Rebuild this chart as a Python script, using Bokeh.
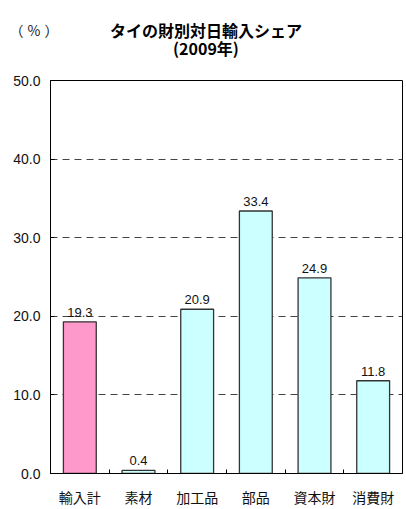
from bokeh.plotting import figure
from bokeh.layouts import column
from bokeh.models import ColumnDataSource, FixedTicker, Range1d, Div
from bokeh.core.properties import value
from bokeh.embed import file_html
from bokeh.resources import INLINE

# Thailand: Japan's share of imports by goods category, 2009 (%)
categories = ["輸入計", "素材", "加工品", "部品", "資本財", "消費財"]
shares = [19.3, 0.4, 20.9, 33.4, 24.9, 11.8]
bar_colors = ["#FF99CC", "#CCFFFF", "#CCFFFF", "#CCFFFF", "#CCFFFF", "#CCFFFF"]
y_ticks = [0, 10, 20, 30, 40, 50]
title_lines = ["タイの財別対日輸入シェア", "(2009年)"]
unit_label = "（%）"

JP = "Noto Sans CJK JP"
NUM = "Liberation Sans"
W, H = 406, 509
HEAD_H = 60

# ---- header: two-line title block and unit ----
span = "position:absolute;display:block;white-space:nowrap;text-align:center;"
header_html = (
    f'<div style="position:relative;width:{W}px;height:{HEAD_H}px;'
    f'font-family:\'{JP}\';color:#000;">'
    f'<span style="{span}left:0px;width:72px;top:22px;font-size:14px;'
    f'letter-spacing:4px;line-height:16px;color:#222;">{unit_label}</span>'
    f'<span style="{span}left:6px;width:400px;top:21px;font-size:16px;'
    f'font-weight:bold;line-height:18px;">'
    f'{title_lines[0]}<br>{title_lines[1]}</span>'
    '</div>'
)
head = Div(text=header_html, width=W, height=HEAD_H,
           styles={"margin": "0", "padding": "0"})

# ---- bar chart ----
positions = list(range(1, len(categories) + 1))
src = ColumnDataSource(dict(
    x=positions,
    share=shares,
    color=bar_colors,
    label=[f"{v:.1f}" for v in shares],
))

p = figure(width=W, height=H - HEAD_H, output_backend="svg", toolbar_location=None,
           x_range=Range1d(0.5, len(categories) + 0.5), y_range=Range1d(0, 50),
           min_border_left=50, min_border_right=4, min_border_top=20,
           min_border_bottom=32)
p.background_fill_color = "white"
p.border_fill_color = "white"
p.outline_line_color = "black"
p.outline_line_width = 1

p.vbar(x="x", top="share", width=0.56, source=src, fill_color="color",
       line_color="#333333", line_width=1.3)

p.text(x="x", y="share", text="label", source=src, text_align="center",
       text_baseline="bottom", y_offset=-5, text_font=value(NUM),
       text_font_size="13px", text_color="#111111")

# y axis
p.yaxis.ticker = FixedTicker(ticks=y_ticks)
p.yaxis.major_label_overrides = {t: f"{t:.1f}" for t in y_ticks}
p.yaxis.major_label_text_font = NUM
p.yaxis.major_label_text_font_size = "14px"
p.yaxis.major_label_text_color = "#111111"
p.yaxis.major_tick_in = 4
p.yaxis.major_tick_out = 0
p.yaxis.minor_tick_line_color = None
p.yaxis.major_label_standoff = 10
p.yaxis.axis_line_color = "black"

# x axis: labels at category centres, small inner ticks between categories
p.xaxis.ticker = FixedTicker(ticks=positions,
                             minor_ticks=[i + 0.5 for i in positions[:-1]])
p.xaxis.major_label_overrides = {i: c for i, c in zip(positions, categories)}
p.xaxis.major_label_text_font = JP
p.xaxis.major_label_text_font_size = "14px"
p.xaxis.major_label_text_color = "#111111"
p.xaxis.major_tick_line_color = None
p.xaxis.minor_tick_in = 4
p.xaxis.minor_tick_out = 0
p.xaxis.minor_tick_line_color = "black"
p.xaxis.major_label_standoff = 7
p.xaxis.axis_line_color = "black"

p.xgrid.grid_line_color = None
p.ygrid.ticker = FixedTicker(ticks=[10, 20, 30, 40])
p.ygrid.grid_line_color = "#444444"
p.ygrid.grid_line_dash = "7 5"
p.ygrid.grid_line_width = 1

layout = column(head, p, spacing=0)
open("out.html", "w").write(file_html(layout, INLINE))
